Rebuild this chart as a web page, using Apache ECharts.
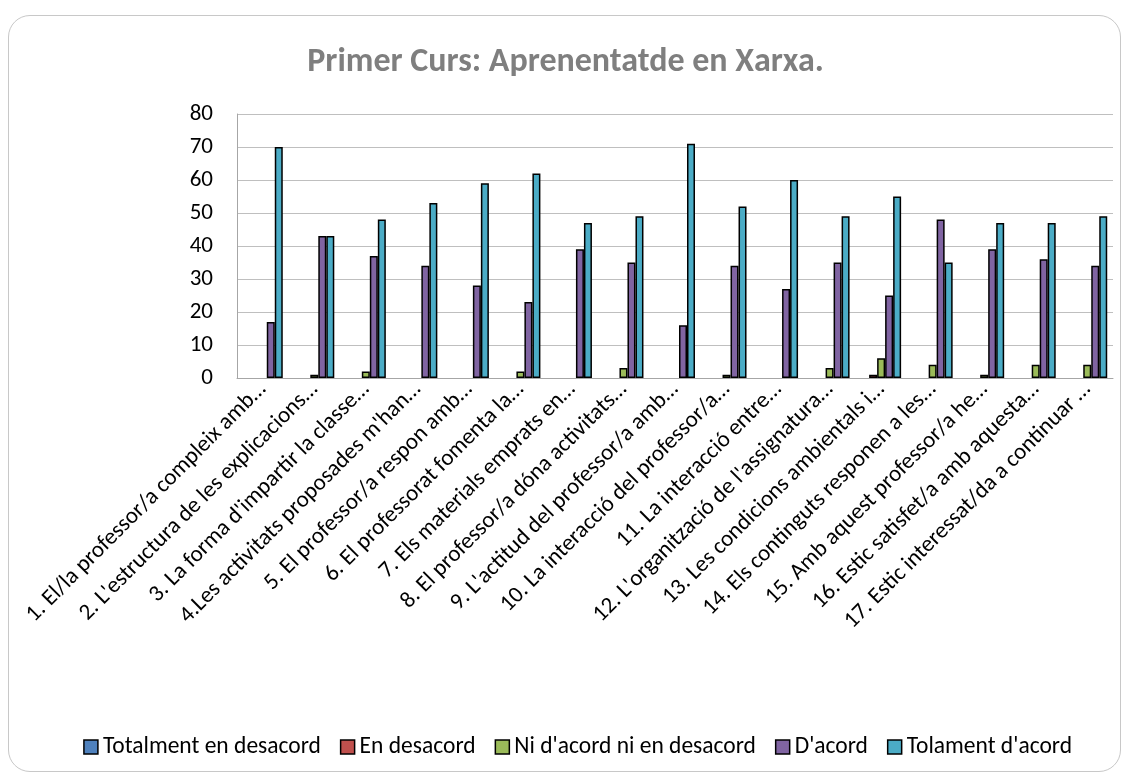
<!DOCTYPE html>
<html>
<head>
<meta charset="utf-8">
<script src="https://cdn.jsdelivr.net/npm/echarts@6/dist/echarts.min.js"></script>
<style>
  html, body { margin: 0; padding: 0; background: #fff; }
  #frame {
    position: absolute; left: 8px; top: 15px; width: 1113px; height: 757px;
    border: 1px solid #c8c8c8; border-radius: 22px; box-sizing: border-box;
  }
  #chart { position: absolute; left: 0; top: 0; width: 1131px; height: 776px; }
</style>
</head>
<body>
<div id="frame"></div>
<div id="chart"></div>
<script>
const categories = [
  "1. El/la professor/a compleix amb…",
  "2. L'estructura de les explicacions…",
  "3. La forma d'impartir la classe…",
  "4.Les activitats proposades m'han…",
  "5. El professor/a respon amb…",
  "6. El professorat fomenta la…",
  "7. Els materials emprats en…",
  "8. El professor/a dóna activitats…",
  "9. L'actitud del professor/a amb…",
  "10. La interacció del professor/a…",
  "11. La interacció entre…",
  "12. L'organització de l'assignatura…",
  "13. Les condicions ambientals i…",
  "14. Els continguts responen a les…",
  "15. Amb aquest professor/a he…",
  "16. Estic satisfet/a amb aquesta…",
  "17. Estic interessat/da a continuar …"
]
const totalmentDesacord = [0, 0, 0, 0, 0, 0, 0, 0, 0, 0, 0, 0, 0, 0, 0, 0, 0]
const enDesacord = [0, 0, 0, 0, 0, 0, 0, 0, 0, 0, 0, 0, 1, 0, 0, 0, 0]
const niAcord = [0, 1, 2, 0, 0, 2, 0, 3, 0, 1, 0, 3, 6, 4, 1, 4, 4]
const dAcord = [17, 43, 37, 34, 28, 23, 39, 35, 16, 34, 27, 35, 25, 48, 39, 36, 34]
const tolamentAcord = [70, 43, 48, 53, 59, 62, 47, 49, 71, 52, 60, 49, 55, 35, 47, 47, 49]
const yTicks = [0, 80, 10]

const font = 'Calibri, Carlito, "Open Sans", sans-serif'
const names = ['Totalment en desacord', 'En desacord', "Ni d'acord ni en desacord", "D'acord", "Tolament d'acord"]
const colors = ['#4F81BD', '#C0504D', '#9BBB59', '#8064A2', '#4BACC6']
const values = [totalmentDesacord, enDesacord, niAcord, dAcord, tolamentAcord]

const myChart = echarts.init(document.getElementById('chart'))
myChart.setOption({
  animation: false,
  title: {
    text: 'Primer Curs: Aprenentatde en Xarxa.',
    left: 'center',
    top: 40,
    textStyle: { fontFamily: font, fontSize: 34, fontWeight: 'bold', color: '#7f7f7f' }
  },
  legend: {
    bottom: 12,
    right: 54,
    itemWidth: 14,
    itemHeight: 14,
    itemGap: 19,
    icon: 'rect',
    itemStyle: { borderColor: '#000', borderWidth: 1.5 },
    textStyle: { fontFamily: font, fontSize: 23.5, color: '#000' },
    data: names
  },
  grid: { left: 237, right: 18, top: 114, bottom: 398 },
  xAxis: {
    type: 'category',
    data: categories,
    axisTick: { show: false },
    axisLine: { lineStyle: { color: '#a6a6a6', width: 1 } },
    axisLabel: {
      rotate: 45,
      interval: 0,
      margin: 8,
      fontFamily: font,
      fontSize: 23,
      color: '#000'
    }
  },
  yAxis: {
    type: 'value',
    min: yTicks[0],
    max: yTicks[1],
    interval: yTicks[2],
    axisLine: { show: true, lineStyle: { color: '#a6a6a6' } },
    axisTick: { show: false },
    splitLine: { lineStyle: { color: '#bfbfbf', width: 1 } },
    axisLabel: { fontFamily: font, fontSize: 23, color: '#000', margin: 24 }
  },
  series: names.map((n, i) => ({
    name: n,
    type: 'bar',
    data: values[i].map(v => (v === 0 ? null : v)),
    barWidth: 8,
    barGap: '0%',
    itemStyle: { color: colors[i], borderColor: '#000', borderWidth: 1.5 }
  }))
})
</script>
</body>
</html>
